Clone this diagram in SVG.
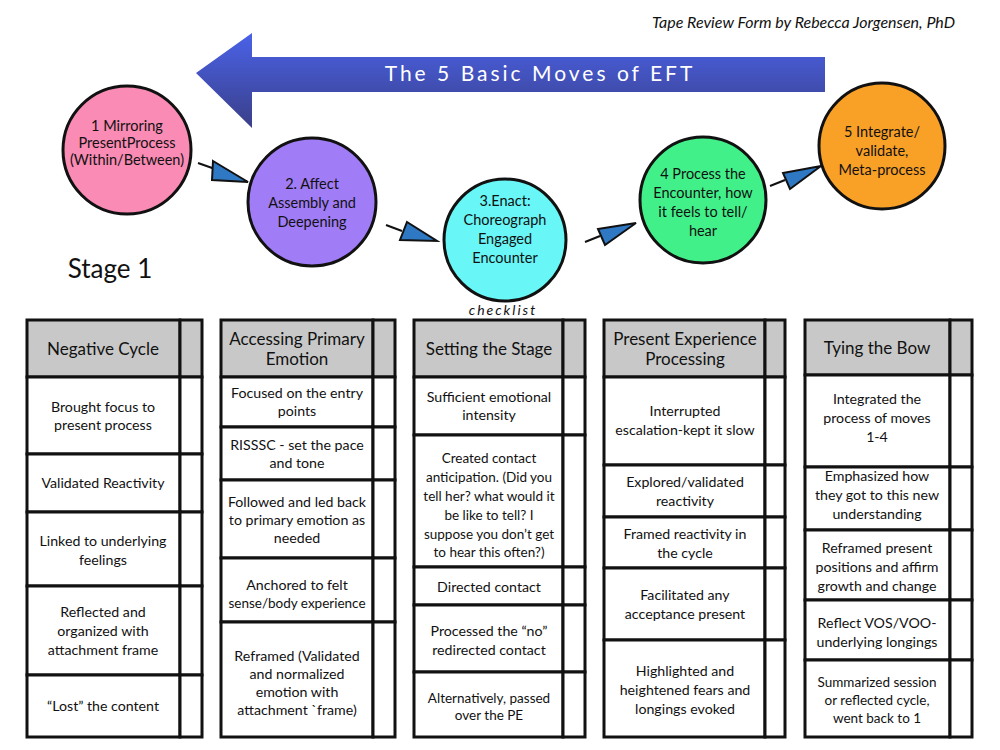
<svg xmlns="http://www.w3.org/2000/svg" width="1000" height="750" viewBox="0 0 1000 750">
<style>
text{font-family:Lato,"Open Sans",sans-serif;fill:#111;text-anchor:middle}
.c{stroke:#111;stroke-width:3}
.ct{font-size:14.5px}
.cell{fill:#fff;stroke:#111;stroke-width:3}
.hd{fill:#c8c8c8;stroke:#111;stroke-width:3}
.t{font-size:14.2px}
.h{font-size:17px}
.ah{fill:#2f78c4;stroke:#111;stroke-width:2}
</style>
<defs>
<linearGradient id="bg" x1="0" y1="0" x2="0" y2="1">
<stop offset="0" stop-color="#4a62e8"/><stop offset="1" stop-color="#3a3f88"/>
</linearGradient>
</defs>
<text x="955" y="28" style="font-size:16px;font-style:italic;text-anchor:end">Tape Review Form by Rebecca Jorgensen, PhD</text>
<g id="title">
<polygon points="196,73 252,33 252,57 825,57 825,92 252,92 252,128" fill="url(#bg)"/>
<text x="540" y="81" style="font-size:21px;fill:#fff;letter-spacing:3px">The 5 Basic Moves of EFT</text>
</g>
<g id="connectors">
<line x1="198" y1="163" x2="215" y2="169" stroke="#111" stroke-width="2"/><polygon class="ah" points="213,161 248,182 212,180"/>
<line x1="386" y1="225" x2="402" y2="231" stroke="#111" stroke-width="2"/><polygon class="ah" points="407,222 437,241 400,240"/>
<line x1="585" y1="242" x2="600" y2="236" stroke="#111" stroke-width="2"/><polygon class="ah" points="598,229 636,223 605,245"/>
<line x1="770" y1="186" x2="785" y2="180" stroke="#111" stroke-width="2"/><polygon class="ah" points="783,173 821,166 790,189"/>
</g>
<g id="m1"><circle class="c" cx="127" cy="150" r="64" fill="#f98bb4"/>
<text class="ct" x="127" y="131">1 Mirroring</text><text class="ct" x="127" y="148">PresentProcess</text><text class="ct" x="127" y="165">(Within/Between)</text></g>
<g id="m2"><circle class="c" cx="312" cy="202" r="64" fill="#a07cf6"/>
<text class="ct" x="312" y="189">2. Affect</text><text class="ct" x="312" y="208">Assembly and</text><text class="ct" x="312" y="227">Deepening</text></g>
<g id="m3"><circle class="c" cx="505" cy="240" r="61" fill="#68f6f6"/>
<text class="ct" x="505" y="206">3.Enact:</text><text class="ct" x="505" y="225">Choreograph</text><text class="ct" x="505" y="244">Engaged</text><text class="ct" x="505" y="263">Encounter</text></g>
<g id="m4"><circle class="c" cx="703" cy="200" r="63" fill="#42f08a"/>
<text class="ct" x="703" y="179">4 Process the</text><text class="ct" x="703" y="198">Encounter, how</text><text class="ct" x="703" y="217">it feels to tell/</text><text class="ct" x="703" y="236">hear</text></g>
<g id="m5"><circle class="c" cx="882" cy="146" r="63" fill="#f9a027"/>
<text class="ct" x="882" y="137">5 Integrate/</text><text class="ct" x="882" y="156">validate,</text><text class="ct" x="882" y="175">Meta-process</text></g>
<text x="110" y="278" style="font-size:26px">Stage 1</text>
<text x="503" y="315" style="font-size:14px;font-style:italic;letter-spacing:2px">checklist</text>

<g id="col1">
<rect class="hd" x="27" y="320" width="153" height="57"/><rect class="hd" x="180" y="320" width="22" height="57"/>
<text class="h" x="103" y="355">Negative Cycle</text>
<rect class="cell" x="27" y="377" width="153" height="77"/><rect class="cell" x="180" y="377" width="22" height="77"/>
<text class="t" x="103" y="412">Brought focus to</text><text class="t" x="103" y="430">present process</text>
<rect class="cell" x="27" y="454" width="153" height="58"/><rect class="cell" x="180" y="454" width="22" height="58"/>
<text class="t" x="103" y="488">Validated Reactivity</text>
<rect class="cell" x="27" y="512" width="153" height="74"/><rect class="cell" x="180" y="512" width="22" height="74"/>
<text class="t" x="103" y="546">Linked to underlying</text><text class="t" x="103" y="565">feelings</text>
<rect class="cell" x="27" y="586" width="153" height="89"/><rect class="cell" x="180" y="586" width="22" height="89"/>
<text class="t" x="103" y="617">Reflected and</text><text class="t" x="103" y="636">organized with</text><text class="t" x="103" y="655">attachment frame</text>
<rect class="cell" x="27" y="675" width="153" height="62"/><rect class="cell" x="180" y="675" width="22" height="62"/>
<text class="t" x="103" y="711">“Lost” the content</text>
</g>

<g id="col2">
<rect class="hd" x="221" y="320" width="152" height="57"/><rect class="hd" x="373" y="320" width="22" height="57"/>
<text class="h" x="297" y="345">Accessing Primary</text><text class="h" x="297" y="365">Emotion</text>
<rect class="cell" x="221" y="377" width="152" height="50"/><rect class="cell" x="373" y="377" width="22" height="50"/>
<text class="t" x="297" y="398">Focused on the entry</text><text class="t" x="297" y="416">points</text>
<rect class="cell" x="221" y="427" width="152" height="53"/><rect class="cell" x="373" y="427" width="22" height="53"/>
<text class="t" x="297" y="450">RISSSC - set the pace</text><text class="t" x="297" y="468">and tone</text>
<rect class="cell" x="221" y="480" width="152" height="78"/><rect class="cell" x="373" y="480" width="22" height="78"/>
<text class="t" x="297" y="507">Followed and led back</text><text class="t" x="297" y="525">to primary emotion as</text><text class="t" x="297" y="543">needed</text>
<rect class="cell" x="221" y="558" width="152" height="64"/><rect class="cell" x="373" y="558" width="22" height="64"/>
<text class="t" x="297" y="590">Anchored to felt</text><text class="t" x="297" y="608" style="font-size:13.5px">sense/body experience</text>
<rect class="cell" x="221" y="622" width="152" height="115"/><rect class="cell" x="373" y="622" width="22" height="115"/>
<text class="t" x="297" y="661">Reframed (Validated</text><text class="t" x="297" y="679">and normalized</text><text class="t" x="297" y="697">emotion with</text><text class="t" x="297" y="715">attachment `frame)</text>
</g>

<g id="col3">
<rect class="hd" x="414" y="320" width="149" height="57"/><rect class="hd" x="563" y="320" width="22" height="57"/>
<text class="h" x="489" y="355">Setting the Stage</text>
<rect class="cell" x="414" y="377" width="149" height="58"/><rect class="cell" x="563" y="377" width="22" height="58"/>
<text class="t" x="489" y="402">Sufficient emotional</text><text class="t" x="489" y="420">intensity</text>
<rect class="cell" x="414" y="435" width="149" height="132"/><rect class="cell" x="563" y="435" width="22" height="132"/>
<g style="font-size:13.5px"><text x="489" y="463">Created contact</text><text x="489" y="482">anticipation. (Did you</text><text x="489" y="501">tell her? what would it</text><text x="489" y="520">be like to tell? I</text><text x="489" y="539">suppose you don’t get</text><text x="489" y="557">to hear this often?)</text></g>
<rect class="cell" x="414" y="567" width="149" height="38"/><rect class="cell" x="563" y="567" width="22" height="38"/>
<text class="t" x="489" y="592">Directed contact</text>
<rect class="cell" x="414" y="605" width="149" height="67"/><rect class="cell" x="563" y="605" width="22" height="67"/>
<text class="t" x="489" y="636">Processed the “no”</text><text class="t" x="489" y="655">redirected contact</text>
<rect class="cell" x="414" y="672" width="149" height="65"/><rect class="cell" x="563" y="672" width="22" height="65"/>
<text class="t" x="489" y="703" style="font-size:13.5px">Alternatively, passed</text><text class="t" x="489" y="720" style="font-size:13.5px">over the PE</text>
</g>

<g id="col4">
<rect class="hd" x="604" y="320" width="161" height="57"/><rect class="hd" x="765" y="320" width="20" height="57"/>
<text class="h" x="685" y="345">Present Experience</text><text class="h" x="685" y="365">Processing</text>
<rect class="cell" x="604" y="377" width="161" height="88"/><rect class="cell" x="765" y="377" width="20" height="88"/>
<text class="t" x="685" y="416">Interrupted</text><text class="t" x="685" y="435">escalation-kept it slow</text>
<rect class="cell" x="604" y="465" width="161" height="52"/><rect class="cell" x="765" y="465" width="20" height="52"/>
<text class="t" x="685" y="487">Explored/validated</text><text class="t" x="685" y="506">reactivity</text>
<rect class="cell" x="604" y="517" width="161" height="51"/><rect class="cell" x="765" y="517" width="20" height="51"/>
<text class="t" x="685" y="539">Framed reactivity in</text><text class="t" x="685" y="558">the cycle</text>
<rect class="cell" x="604" y="568" width="161" height="72"/><rect class="cell" x="765" y="568" width="20" height="72"/>
<text class="t" x="685" y="600">Facilitated any</text><text class="t" x="685" y="619">acceptance present</text>
<rect class="cell" x="604" y="640" width="161" height="97"/><rect class="cell" x="765" y="640" width="20" height="97"/>
<text class="t" x="685" y="676">Highlighted and</text><text class="t" x="685" y="695">heightened fears and</text><text class="t" x="685" y="714">longings evoked</text>
</g>

<g id="col5">
<rect class="hd" x="805" y="320" width="145" height="55"/><rect class="hd" x="950" y="320" width="22" height="55"/>
<text class="h" x="877" y="354">Tying the Bow</text>
<rect class="cell" x="805" y="375" width="145" height="92"/><rect class="cell" x="950" y="375" width="22" height="92"/>
<text class="t" x="877" y="404">Integrated the</text><text class="t" x="877" y="423">process of moves</text><text class="t" x="877" y="442">1-4</text>
<rect class="cell" x="805" y="467" width="145" height="63"/><rect class="cell" x="950" y="467" width="22" height="63"/>
<text class="t" x="877" y="481">Emphasized how</text><text class="t" x="877" y="500">they got to this new</text><text class="t" x="877" y="519">understanding</text>
<rect class="cell" x="805" y="530" width="145" height="70"/><rect class="cell" x="950" y="530" width="22" height="70"/>
<text class="t" x="877" y="553">Reframed present</text><text class="t" x="877" y="572">positions and affirm</text><text class="t" x="877" y="591">growth and change</text>
<rect class="cell" x="805" y="600" width="145" height="60"/><rect class="cell" x="950" y="600" width="22" height="60"/>
<text class="t" x="877" y="628">Reflect VOS/VOO-</text><text class="t" x="877" y="647">underlying longings</text>
<rect class="cell" x="805" y="660" width="145" height="77"/><rect class="cell" x="950" y="660" width="22" height="77"/>
<text class="t" x="877" y="687" style="font-size:13.5px">Summarized session</text><text class="t" x="877" y="705" style="font-size:13.5px">or reflected cycle,</text><text class="t" x="877" y="723" style="font-size:13.5px">went back to 1</text>
</g>
</svg>
